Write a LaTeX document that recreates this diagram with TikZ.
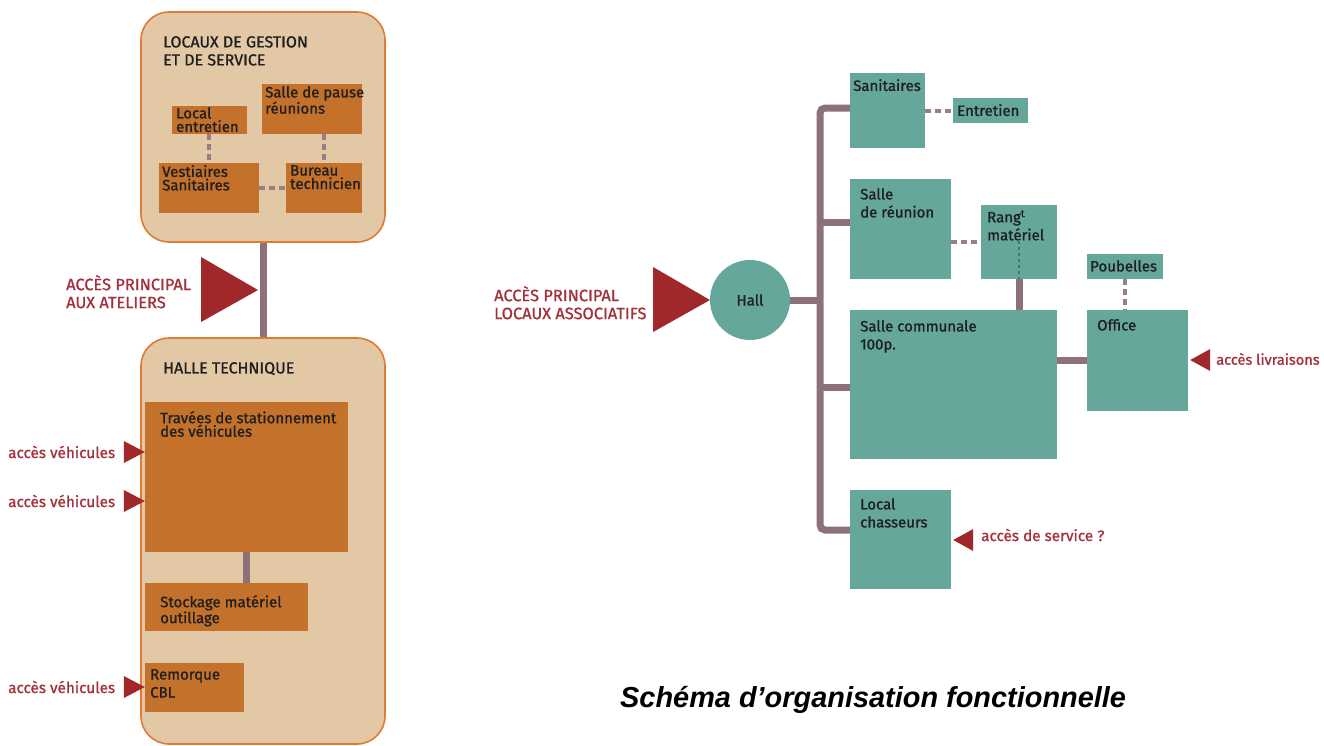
\documentclass[tikz,border=0pt]{standalone}
\usepackage{fontspec}
\setmainfont{Fira Sans}[FakeBold=1.0]
\newfontfamily\boxfont{Fira Sans}[FakeBold=1.0]
\newfontfamily\titlefont{Liberation Sans}
\usetikzlibrary{fit}
\definecolor{tan}{HTML}{E3C8A6}
\definecolor{tanedge}{HTML}{E07B34}
\definecolor{obox}{HTML}{C4712B}
\definecolor{mauve}{HTML}{8C7278}
\definecolor{dred}{HTML}{A0282A}
\definecolor{rtext}{HTML}{A3303C}
\definecolor{teal}{HTML}{66A79B}
\definecolor{dteal}{HTML}{2F7F72}
\tikzset{
  zone/.style={draw=tanedge, line width=1.6pt, fill=tan, rounded corners=28pt, inner sep=0pt},
  orbox/.style={fill=obox, inner sep=0pt},
  tlbox/.style={fill=teal, inner sep=0pt},
  lbl/.style={anchor=north west, inner sep=0pt, align=left, font=\boxfont\fontsize{15}{13.5}\selectfont, text=black!88},
  lblr/.style={anchor=north west, inner sep=0pt, align=left, font=\boxfont\fontsize{15}{18}\selectfont, text=black!88},
  caps/.style={anchor=north west, inner sep=0pt, align=left, font=\boxfont\fontsize{16}{18}\selectfont},
  redtxt/.style={anchor=west, inner sep=0pt, align=left, font=\boxfont\fontsize{15.3}{18}\selectfont, text=rtext},
  redcaps/.style={anchor=north west, inner sep=0pt, align=left, font=\boxfont\fontsize{16.4}{18}\selectfont, text=rtext},
  link/.style={draw=mauve, line width=7pt},
  dlink/.style={draw=mauve!90, line width=3.5pt, dash pattern=on 6pt off 4pt},
  arr/.style={fill=dred},
}
\begin{document}
\begin{tikzpicture}[x=1pt,y=-1pt]
\useasboundingbox (0,0) rectangle (1324,745);
\fill[white] (0,0) rectangle (1324,745);

% ---------- LEFT : zones ----------
\node[zone, fit={(141,12)(385,242)}] (z1) {};
\node[zone, fit={(141,338)(385,744)}] (z2) {};
\draw[link] (z1.south -| 263,0) -- coordinate[pos=0.5] (mid) (z2.north -| 263,0);

\node[caps, text=black!88] (t1) at (163,36) {LOCAUX DE GESTION\\ET DE SERVICE};
\node[caps, text=black!88] (t2) at (163,362) {HALLE TECHNIQUE};

% top zone boxes
\node[orbox, fit={(172,106)(247,134)}] (le) {};
\node[orbox, fit={(262,84)(362,134)}] (sp) {};
\node[orbox, fit={(159,163)(259,213)}] (vs) {};
\node[orbox, fit={(286,163)(362,213)}] (bt) {};
\node[lbl] at (176,107) {Local\\entretien};
\node[lbl] at (265,86) {Salle de pause\\réunions};
\node[lbl] at (162,165) {Vestiaires\\Sanitaires};
\node[lbl] at (290,165) {Bureau\\technicien};
\draw[dlink] (le.south -| 209,0) -- (vs.north -| 209,0);
\draw[dlink] (sp.south -| 324,0) -- (bt.north -| 324,0);
\draw[dlink] (vs.east |- 0,188) -- (bt.west |- 0,188);

% main access left
\coordinate (tipL) at (258,290);
\fill[arr] (tipL) -- (201,257) -- (201,322) -- cycle;
\node[redcaps] (accL) at (66,275) {ACCÈS PRINCIPAL\\AUX ATELIERS};

% bottom zone boxes
\node[orbox, fit={(145,402)(348,552)}] (tv) {};
\node[orbox, fit={(145,583)(308,631)}] (st) {};
\node[orbox, fit={(145,663)(244,712)}] (rc) {};
\node[lbl] at (160,411) {Travées de stationnement\\des véhicules};
\node[lbl] at (160,595) {Stockage matériel\\outillage};
\node[lblr] at (150,669) {Remorque\\CBL};
\draw[link] (tv.south -| 246,0) -- (st.north -| 246,0);

\foreach \yy/\nm/\bx in {452/va/tv, 501/vb/tv, 687/vc/rc}{
  \coordinate (tip\nm) at (\bx.west |- 0,\yy);
  \fill[arr] (tip\nm) -- ++(-21,-11) -- ++(0,22) -- cycle;
  \node[redtxt] (lab\nm) at (8,\yy) {accès véhicules};
}

% ---------- RIGHT ----------
\coordinate (tipR) at (710,300);
\fill[arr] (tipR) -- (653,267) -- (653,332) -- cycle;
\node[redcaps] (accR) at (494,286) {ACCÈS PRINCIPAL\\LOCAUX ASSOCIATIFS};

\node[circle, fill=teal, minimum size=80pt, inner sep=0pt, font=\boxfont\fontsize{15}{15}\selectfont, text=black!88] (hall) at (750,300) {Hall};

\node[tlbox, fit={(850,73)(925,148)}] (san) {};
\node[tlbox, fit={(953,98)(1028,123)}] (ent) {};
\node[tlbox, fit={(850,179)(951,279)}] (sr) {};
\node[tlbox, fit={(981,205)(1057,279)}] (rm) {};
\node[tlbox, fit={(850,310)(1057,459)}] (sc) {};
\node[tlbox, fit={(1087,310)(1188,411)}] (off) {};
\node[tlbox, fit={(1087,254)(1163,279)}] (pb) {};
\node[tlbox, fit={(850,490)(951,589)}] (lc) {};

\node[lbl] at (853,79) {Sanitaires};
\node[lbl] at (957,104) {Entretien};
\node[lblr] at (860,188) {Salle\\de réunion};
\node[lblr] at (987,210) {Rang\textsuperscript{t}\\matériel};
\node[lblr] at (860,320) {Salle communale\\100p.};
\node[lbl] at (1097,319) {Office};
\node[lbl] at (1090,260) {Poubelles};
\node[lblr] at (860,498) {Local\\chasseurs};

% spine
\coordinate (sp1) at (820,108);
\coordinate (sp2) at (820,530);
\draw[link, rounded corners=5pt] (san.west |- sp1) -- (sp1) -- (sp2) -- (lc.west |- sp2);
\draw[link] (hall.east) -- (820,300);
\draw[link] (820,222) -- (sr.west |- 0,222);
\draw[link] (820,387) -- (sc.west |- 0,387);
\draw[link] (rm.south -| 1019,0) -- (sc.north -| 1019,0);
\draw[link] (sc.east |- 0,360) -- (off.west |- 0,360);

\draw[dlink] (san.east |- 0,111) -- (ent.west |- 0,111);
\draw[dlink] (sr.east |- 0,242) -- (rm.west |- 0,242);
\draw[dlink] (pb.south -| 1125,0) -- (off.north -| 1125,0);
\draw[draw=dteal, line width=1.8pt, dash pattern=on 3pt off 3pt] (1019,241) -- (rm.south -| 1019,0);

% small arrows right
\coordinate (tipO) at (off.east |- 0,360);
\fill[arr] ([xshift=2]tipO) -- ++(20,-11) -- ++(0,22) -- cycle;
\node[redtxt, font=\boxfont\fontsize{14.6}{18}\selectfont] (liv) at (1216,359) {accès livraisons};
\coordinate (tipC) at (lc.east |- 0,540);
\fill[arr] ([xshift=2]tipC) -- ++(20,-11) -- ++(0,22) -- cycle;
\node[redtxt] (serv) at (981,535) {accès de service ?};

% title
\node[inner sep=0pt, anchor=base west, font=\titlefont\bfseries\itshape\fontsize{28.9}{30}\selectfont] (title) at (620,707) {Schéma d’organisation fonctionnelle};
\end{tikzpicture}
\end{document}
